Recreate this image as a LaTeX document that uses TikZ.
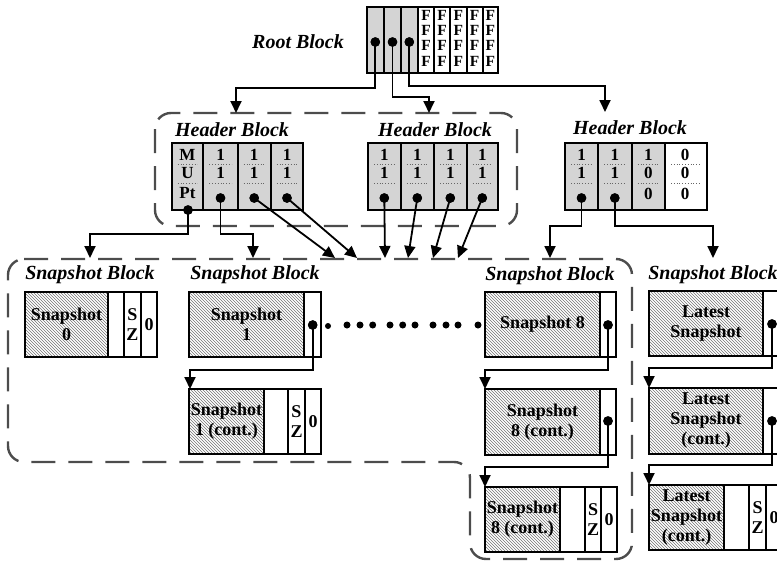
\documentclass[tikz,border=0pt]{standalone}
\usepackage{fontspec}
\setmainfont{Liberation Serif}
\usetikzlibrary{arrows.meta,patterns}
\begin{document}
\begin{tikzpicture}[x=1pt,y=-1pt,
  lbl/.style={font=\fontsize{20}{22}\selectfont\bfseries\itshape, inner sep=0pt},
  celltxt/.style={font=\fontsize{17}{18}\selectfont\bfseries, inner sep=0pt, align=center},
  ftxt/.style={font=\fontsize{15.5}{16}\selectfont\bfseries, inner sep=0pt},
  snaptxt/.style={font=\fontsize{18}{20}\selectfont\bfseries, align=center, inner sep=0pt},
  boxline/.style={line width=1.7pt},
  hatch/.style={pattern=north west lines, pattern color=black!55},
  dotn/.style={circle, fill=black, inner sep=0pt, minimum size=9.5pt},
  smalldot/.style={circle, fill=black, inner sep=0pt, minimum size=7pt},
  arr/.style={line width=1.8pt, -{Triangle[width=11pt,length=12pt]}},
  grp/.style={line width=2.4pt, black!70, dash pattern=on 24pt off 13pt, rounded corners=16pt},
  sep/.style={dotted, line width=0.8pt, black!60}]
\useasboundingbox (0,0) rectangle (777,562);
\clip (0,0) rectangle (777,562);

% ---------------- Root block ----------------
\node[lbl] (rootlbl) at (298,42) {Root Block};
\fill[black!17] (366.7,7) rectangle (417.7,73);
\draw[boxline] (366.7,7) rectangle (498,73);
\foreach \x in {384,401,417.7,434,450,466.7,482.7} \draw[boxline] (\x,7) -- (\x,73);
\foreach \x [count=\i] in {426,442,458.3,474.7,490.3} {
  \foreach \y [count=\j] in {15,30,45,61} \node[ftxt] (rf\i\j) at (\x,\y) {F};
}
\node[dotn] (rd1) at (375.3,42) {};
\node[dotn] (rd2) at (392.5,42) {};
\node[dotn] (rd3) at (409.3,42) {};

% ---------------- Header group ----------------
\draw[grp] (155,113) rectangle (517,226);
\coordinate (hin1) at (236,113);
\coordinate (hin2) at (429,113);
\coordinate (hin3) at (605,112);

% Header block 1
\node[lbl] (hl1) at (232,130) {Header Block};
\fill[black!17] (171.7,143) rectangle (303.3,210);
\foreach \a/\b in {171.7/203.3,203.3/237.7,237.7/270.7,270.7/303.3} {
  \draw[sep] (\a+6,164) -- (\b-6,164); \draw[sep] (\a+6,183) -- (\b-6,183);}
\draw[boxline] (171.7,143) rectangle (303.3,210);
\foreach \x in {203.3,237.7,270.7} \draw[boxline] (\x,143) -- (\x,210);
\node[celltxt] (h1m) at (187.5,155) {M};
\node[celltxt] (h1u) at (187.5,173) {U};
\node[celltxt] (h1p) at (187.5,193) {Pt};
\foreach \x [count=\i] in {220.5,254.2,287} {
  \node[celltxt] (h1a\i) at (\x,155) {1};
  \node[celltxt] (h1b\i) at (\x,173) {1};
}
\node[dotn] (h1d0) at (188,210) {};
\node[dotn] (h1d1) at (220.5,198) {};
\node[dotn] (h1d2) at (254.2,198) {};
\node[dotn] (h1d3) at (287,198) {};

% Header block 2
\node[lbl] (hl2) at (435,130) {Header Block};
\fill[black!17] (368,143) rectangle (498,210);
\foreach \a/\b in {368/400.7,400.7/434,434/466.7,466.7/498} {
  \draw[sep] (\a+6,164) -- (\b-6,164); \draw[sep] (\a+6,183) -- (\b-6,183);}
\draw[boxline] (368,143) rectangle (498,210);
\foreach \x in {400.7,434,466.7} \draw[boxline] (\x,143) -- (\x,210);
\foreach \x [count=\i] in {384.3,417.3,450.3,482.3} {
  \node[celltxt] (h2a\i) at (\x,155) {1};
  \node[celltxt] (h2b\i) at (\x,173) {1};
  \node[dotn] (h2d\i) at (\x,198) {};
}

% Header block 3
\node[lbl] (hl3) at (630,128) {Header Block};
\fill[black!17] (565,143) rectangle (665,210);
\foreach \a/\b in {565/598,598/631.7,631.7/665,665/706.7} {
  \draw[sep] (\a+6,164) -- (\b-6,164); \draw[sep] (\a+6,183) -- (\b-6,183);}
\draw[boxline] (565,143) rectangle (706.7,210);
\foreach \x in {598,631.7,665} \draw[boxline] (\x,143) -- (\x,210);
\node[celltxt] (h3a1) at (581.5,155) {1};
\node[celltxt] (h3b1) at (581.5,173) {1};
\node[celltxt] (h3a2) at (614.8,155) {1};
\node[celltxt] (h3b2) at (614.8,173) {1};
\node[celltxt] (h3a3) at (648.3,155) {1};
\node[celltxt] (h3b3) at (648.3,173) {0};
\node[celltxt] (h3c3) at (648.3,194) {0};
\node[celltxt] (h3a4) at (685,155) {0};
\node[celltxt] (h3b4) at (685,173) {0};
\node[celltxt] (h3c4) at (685,194) {0};
\node[dotn] (h3d1) at (581.5,198) {};
\node[dotn] (h3d2) at (614.8,198) {};

% ---------------- Snapshot group ----------------
\draw[grp] (8,259) -- (632,259) -- (632,559) -- (470,559) -- (470,462) -- (8,462) -- cycle;

\node[lbl] (sl0) at (90,275) {Snapshot Block};
\node[lbl] (sl1) at (255,275) {Snapshot Block};
\node[lbl] (sl8) at (550,276) {Snapshot Block};
\node[lbl] (slL) at (713,275) {Snapshot Block};

% Snapshot 0
\path[hatch] (25,292) rectangle (108,357);
\draw[boxline] (25,292) rectangle (157,357);
\foreach \x in {108,124,141} \draw[boxline] (\x,292) -- (\x,357);
\node[snaptxt] (s0t) at (66.5,324.5) {Snapshot\\0};
\node[snaptxt] (s0sz) at (132.5,324.5) {S\\Z};
\node[snaptxt] (s0z) at (149,324.5) {0};

% Snapshot 1
\path[hatch] (189,292) rectangle (304,357);
\draw[boxline] (189,292) rectangle (321,357);
\draw[boxline] (304,292) -- (304,357);
\node[snaptxt] (s1t) at (246.5,324.5) {Snapshot\\1};
\node[dotn] (s1d) at (312.7,325) {};

% Snapshot 1 (cont.)
\path[hatch] (189,389) rectangle (264,454);
\draw[boxline] (189,389) rectangle (321,454);
\foreach \x in {264,288,305} \draw[boxline] (\x,389) -- (\x,454);
\node[snaptxt] (s1ct) at (226.5,421.5) {Snapshot\\1 (cont.)};
\node[snaptxt] (s1csz) at (296.5,421.5) {S\\Z};
\node[snaptxt] (s1cz) at (313,421.5) {0};

% ellipsis
\node[smalldot, minimum size=6pt] (el0) at (328,326) {};
\foreach \x [count=\i] in {347,360,372.7,390,402.7,415,433,446,458,478}
  \node[smalldot] (el\i) at (\x,325) {};

% Snapshot 8
\path[hatch] (485,292) rectangle (600,357);
\draw[boxline] (485,292) rectangle (616,357);
\draw[boxline] (600,292) -- (600,357);
\node[snaptxt] (s8t) at (542.5,324.5) {Snapshot 8};
\node[dotn] (s8d) at (608,325) {};

% Snapshot 8 (cont.)
\path[hatch] (485,389) rectangle (600,455);
\draw[boxline] (485,389) rectangle (616,455);
\draw[boxline] (600,389) -- (600,455);
\node[snaptxt] (s8ct) at (542.5,422) {Snapshot\\8 (cont.)};
\node[dotn] (s8cd) at (608,421) {};

% Snapshot 8 (cont.) last
\path[hatch] (485,487) rectangle (560,552);
\draw[boxline] (485,487) rectangle (617,552);
\foreach \x in {560,585,601} \draw[boxline] (\x,487) -- (\x,552);
\node[snaptxt] (s8c2t) at (522.5,519.5) {Snapshot\\8 (cont.)};
\node[snaptxt] (s8c2sz) at (593,519.5) {S\\Z};
\node[snaptxt] (s8c2z) at (609,519.5) {0};

% Latest Snapshot
\path[hatch] (649,291) rectangle (763,356);
\draw[boxline] (649,291) rectangle (790,356);
\draw[boxline] (763,291) -- (763,356);
\node[snaptxt] (lt) at (706,323.5) {Latest\\Snapshot};
\node[dotn] (ld) at (772,324) {};

\path[hatch] (649,388) rectangle (763,454);
\draw[boxline] (649,388) rectangle (790,454);
\draw[boxline] (763,388) -- (763,454);
\node[snaptxt] (lct) at (706,421) {Latest\\Snapshot\\(cont.)};
\node[dotn] (lcd) at (772,421) {};

\path[hatch] (649,485) rectangle (724,550);
\draw[boxline] (649,485) rectangle (790,550);
\foreach \x in {724,749,766} \draw[boxline] (\x,485) -- (\x,550);
\node[snaptxt] (lc2t) at (686.5,517.5) {Latest\\Snapshot\\(cont.)};
\node[snaptxt] (lc2sz) at (757.5,517.5) {S\\Z};
\node[snaptxt] (lc2z) at (774,517.5) {0};

% ---------------- Connectors ----------------
\draw[arr] (rd1.center) -- (375.3,88) -- (236,88) -- (hin1);
\draw[arr] (rd2.center) -- (392.5,97) -- (429,97) -- (hin2);
\draw[arr] (rd3.center) -- (409.3,86) -- (605,86) -- (hin3);

\coordinate (sin0) at (90,258);
\coordinate (sin1) at (253,258);
\coordinate (sinA) at (335,258);
\coordinate (sinB) at (357,258);
\coordinate (sinC) at (385,258);
\coordinate (sinD) at (408,258);
\coordinate (sinE) at (433,258);
\coordinate (sinF) at (458,258);
\coordinate (sin8) at (550,258);
\coordinate (sinL) at (713,258);

\draw[arr] (h1d0.center) -- (188,234) -- (90,234) -- (sin0);
\draw[arr] (h1d1.center) -- (220.5,234) -- (253,234) -- (sin1);
\draw[arr] (h1d2.center) -- (sinA);
\draw[arr] (h1d3.center) -- (sinB);
\draw[arr] (h2d1.center) -- (sinC);
\draw[arr] (h2d2.center) -- (sinD);
\draw[arr] (h2d3.center) -- (sinE);
\draw[arr] (h2d4.center) -- (sinF);
\draw[arr] (h3d1.center) -- (581.5,226) -- (550,226) -- (sin8);
\draw[arr] (h3d2.center) -- (614.8,226) -- (713,226) -- (sinL);

\draw[arr] (s1d.center) -- (312.7,370) -- (190,370) -- (190,389);
\draw[arr] (s8d.center) -- (608,370) -- (485,370) -- (485,389);
\draw[arr] (s8cd.center) -- (608,467) -- (485,467) -- (485,487);
\draw[arr] (ld.center) -- (772,368) -- (649,368) -- (649,388);
\draw[arr] (lcd.center) -- (772,465) -- (649,465) -- (649,485);

% redraw dots above lines
\foreach \n in {rd1,rd2,rd3,h1d0,h1d1,h1d2,h1d3,h2d1,h2d2,h2d3,h2d4,h3d1,h3d2,s1d,s8d,s8cd,ld,lcd}
  \fill (\n.center) circle (4.75pt);
\end{tikzpicture}
\end{document}
